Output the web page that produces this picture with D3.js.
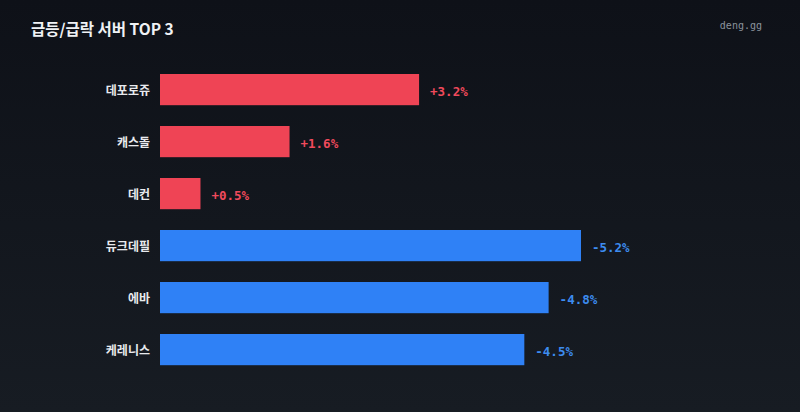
<!DOCTYPE html>
<head>
    <meta charset="utf-8">
    <style>
        html, body { margin: 0; padding: 0; }
        body { width: 800px; height: 412px; overflow: hidden; }
        svg { display: block; }
    </style>
</head>
<body>
    <script src="https://cdn.jsdelivr.net/npm/d3@7/dist/d3.min.js"></script>
    <script>
        const w = 800, h = 412;

        const servers = ['데포로쥬', '캐스돌', '데컨', '듀크데필', '에바', '케레니스'];
        const changes = [3.2, 1.6, 0.5, -5.2, -4.8, -4.5];
        const title = '급등/급락 서버 TOP 3';
        const source = 'deng.gg';

        const data = servers.map((s, i) => ({ name: s, value: changes[i] }));

        const svg = d3.select('body')
                      .append('svg')
                      .attr('width', w)
                      .attr('height', h);

        const grad = svg.append('defs')
                        .append('linearGradient')
                        .attr('id', 'bg')
                        .attr('x1', 0).attr('y1', 0)
                        .attr('x2', 0).attr('y2', 1);
        grad.append('stop').attr('offset', '0%').attr('stop-color', '#0e1118');
        grad.append('stop').attr('offset', '100%').attr('stop-color', '#171c23');

        svg.append('rect')
           .attr('width', w)
           .attr('height', h)
           .attr('fill', 'url(#bg)');

        const x = d3.scaleLinear()
                    .domain([0, d3.max(data, d => Math.abs(d.value))])
                    .range([160, 581]);

        const y = d3.scaleBand()
                    .domain(servers)
                    .range([63.6, 375.6])
                    .paddingInner(0.4)
                    .paddingOuter(0.2);

        const red = '#ef4455', blue = '#2f81f6';

        svg.append('text')
           .attr('x', 31)
           .attr('y', 35)
           .attr('fill', '#f0f2f5')
           .style('font-family', '"Noto Sans CJK KR", "Noto Sans", sans-serif')
           .style('font-size', '15.5px')
           .style('font-weight', 'bold')
           .text(title);

        svg.append('text')
           .attr('x', 762)
           .attr('y', 29)
           .attr('text-anchor', 'end')
           .attr('fill', '#8b929c')
           .style('font-family', '"DejaVu Sans Mono", monospace')
           .style('font-size', '10px')
           .text(source);

        const row = svg.selectAll('g.row')
                       .data(data)
                       .enter()
                       .append('g')
                       .attr('class', 'row');

        row.append('rect')
           .attr('x', x(0))
           .attr('y', d => y(d.name))
           .attr('width', d => x(Math.abs(d.value)) - x(0))
           .attr('height', y.bandwidth())
           .attr('fill', d => d.value >= 0 ? red : blue);

        row.append('text')
           .attr('x', 150)
           .attr('y', d => y(d.name) + y.bandwidth() / 2 + 1.5)
           .attr('dy', '0.35em')
           .attr('text-anchor', 'end')
           .attr('fill', '#e8eaee')
           .style('font-family', '"Noto Sans CJK KR", sans-serif')
           .style('font-size', '12px')
           .style('font-weight', 'bold')
           .text(d => d.name);

        row.append('text')
           .attr('x', d => x(Math.abs(d.value)) + 11)
           .attr('y', d => y(d.name) + y.bandwidth() / 2 + 2)
           .attr('dy', '0.35em')
           .attr('fill', d => d.value >= 0 ? '#f04a5c' : '#3d8cf0')
           .style('font-family', '"DejaVu Sans Mono", monospace')
           .style('font-size', '12.5px')
           .style('font-weight', 'bold')
           .text(d => (d.value >= 0 ? '+' : '') + d.value.toFixed(1) + '%');
    </script>
</body>
